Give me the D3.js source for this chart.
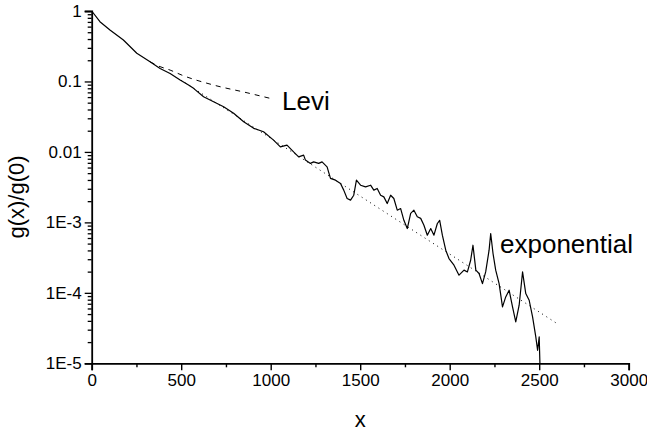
<!DOCTYPE html>
<html>
<head>
<meta charset="utf-8">
<script src="https://cdn.jsdelivr.net/npm/d3@7"></script>
<style>
  html, body { margin: 0; padding: 0; background: #fff; }
  svg text { font-family: "Liberation Sans", Arial, Helvetica, sans-serif; fill: #000; }
</style>
</head>
<body>
<svg id="chart" width="647" height="432"></svg>
<script>
// ---- data ----
const dataX = [0, 46, 102, 177, 252, 326, 382, 438, 494, 541, 569, 625, 681, 737, 793, 849, 905, 960, 1016, 1054, 1091,
  1128, 1156, 1184, 1194, 1222, 1240, 1268, 1287, 1315, 1334, 1362, 1390, 1408, 1427, 1446, 1464, 1479, 1502, 1530, 1558,
  1576, 1595, 1614, 1632, 1651, 1670, 1688, 1707, 1726, 1744, 1763, 1782, 1800, 1819, 1838, 1856, 1875, 1894, 1912, 1931,
  1944, 1959, 1978, 1996, 2024, 2052, 2080, 2099, 2117, 2130, 2146, 2164, 2183, 2201, 2220, 2229, 2242, 2257, 2276, 2295,
  2313, 2332, 2351, 2369, 2388, 2407, 2425, 2444, 2463, 2481, 2491, 2500, 2504];
const dataG = [1, 0.705, 0.537, 0.387, 0.251, 0.190, 0.153, 0.130, 0.105, 0.0889, 0.0798, 0.0606, 0.0515, 0.0437, 0.0353,
  0.0268, 0.0216, 0.0193, 0.0147, 0.0118, 0.0125,
  0.0100, 0.00852, 0.00901, 0.00765, 0.00687, 0.00723, 0.00687, 0.00723, 0.00614, 0.00421, 0.00397, 0.00357, 0.00287,
  0.00218, 0.00207, 0.00243, 0.00397, 0.00337, 0.00319, 0.00337,
  0.00287, 0.00303, 0.00243, 0.00230, 0.00185, 0.00243, 0.00218, 0.00149, 0.00157, 0.00107, 0.000818, 0.00134, 0.00149,
  0.00120, 0.00114, 0.000912, 0.000658, 0.000818, 0.000658, 0.000964,
  0.00107, 0.000658, 0.000403, 0.000307, 0.000247, 0.000178, 0.000210, 0.000198, 0.000290, 0.000474, 0.000210, 0.000188,
  0.000135, 0.000198, 0.000403, 0.000695, 0.000362, 0.000210, 0.000135, 0.0000631,
  0.0000875, 0.000109, 0.0000631, 0.0000386, 0.0000667, 0.000198, 0.0000977, 0.0000785, 0.0000455, 0.0000237, 0.0000153,
  0.0000237, 0.00001];

const leviX = [326, 373, 438, 504, 681, 868, 998];
const leviG = [0.190, 0.1655, 0.145, 0.123, 0.0889, 0.0691, 0.0575];

const expX = [500, 2600];
const expG = [0.104, 0.0000366];

const xTicks = [0, 500, 1000, 1500, 2000, 2500, 3000];
const xTickLabels = ["0", "500", "1000", "1500", "2000", "2500", "3000"];
const xMinorTicks = [250, 750, 1250, 1750, 2250, 2750];
const yTicks = [1, 0.1, 0.01, 1e-3, 1e-4, 1e-5];
const yTickLabels = ["1", "0.1", "0.01", "1E-3", "1E-4", "1E-5"];

const xTitle = "x";
const yTitle = "g(x)/g(0)";
const leviLabel = "Levi";
const expLabel = "exponential";

// ---- drawing ----
(function () {
const svg = d3.select("#chart");
const mLeft = 91.7, mRight = 628.7, mTop = 11, mBottom = 363.3;

const x = d3.scaleLinear().domain([0, 3000]).range([mLeft, mRight]);
const y = d3.scaleLog().domain([1e-5, 1]).range([mBottom, mTop]);

const yMinor = [];
for (let e = -5; e < 0; e++) {
  for (let m = 2; m <= 9; m++) yMinor.push(m * Math.pow(10, e));
}

// X axis
const gx = svg.append("g").attr("transform", `translate(0,${mBottom})`);
gx.call(d3.axisBottom(x).tickValues(xTicks).tickFormat((d, i) => xTickLabels[i]).tickSizeOuter(0).tickSize(7).tickPadding(4));
gx.append("g").call(d3.axisBottom(x).tickValues(xMinorTicks).tickFormat("").tickSize(4))
  .select(".domain").remove();
gx.selectAll("path.domain").attr("stroke", "#000").attr("stroke-width", 1.8);
gx.selectAll(".tick line").attr("stroke", "#000").attr("stroke-width", 1.4);
gx.selectAll(".tick text").attr("font-size", 17).attr("font-family", "Liberation Sans, Arial, sans-serif");

// Y axis
const gy = svg.append("g").attr("transform", `translate(${mLeft},0)`);
gy.call(d3.axisLeft(y).tickValues(yTicks).tickFormat((d, i) => yTickLabels[i]).tickSizeOuter(0).tickSize(7).tickPadding(3));
gy.append("g").call(d3.axisLeft(y).tickValues(yMinor).tickFormat("").tickSize(4))
  .select(".domain").remove();
gy.selectAll("path.domain").attr("stroke", "#000").attr("stroke-width", 1.8);
gy.selectAll(".tick line").attr("stroke", "#000").attr("stroke-width", 1.3);
gy.selectAll(".tick text").attr("font-size", 17).attr("font-family", "Liberation Sans, Arial, sans-serif");

// Lines
const line = d3.line().x(d => x(d[0])).y(d => y(d[1]));

svg.append("path")
  .datum(expX.map((v, i) => [v, expG[i]]))
  .attr("d", line)
  .attr("fill", "none").attr("stroke", "#000").attr("stroke-width", 1)
  .attr("stroke-dasharray", "1,4");

svg.append("path")
  .datum(leviX.map((v, i) => [v, leviG[i]]))
  .attr("d", d3.line().x(d => x(d[0])).y(d => y(d[1])).curve(d3.curveMonotoneX))
  .attr("fill", "none").attr("stroke", "#000").attr("stroke-width", 1)
  .attr("stroke-dasharray", "5,5");

svg.append("path")
  .datum(dataX.map((v, i) => [v, dataG[i]]))
  .attr("d", line)
  .attr("fill", "none").attr("stroke", "#000").attr("stroke-width", 1.2)
  .attr("stroke-linejoin", "round");

// Titles
svg.append("text").attr("x", x(1500)).attr("y", 427)
  .attr("text-anchor", "middle").attr("font-size", 22).text(xTitle);
svg.append("text").attr("transform", `translate(24,197) rotate(-90)`)
  .attr("text-anchor", "middle").attr("font-size", 22).text(yTitle);

// Annotations
svg.append("text").attr("x", 282).attr("y", 110).attr("font-size", 26).text(leviLabel);
svg.append("text").attr("x", 500).attr("y", 253).attr("font-size", 26).text(expLabel);
})();
</script>
</body>
</html>
